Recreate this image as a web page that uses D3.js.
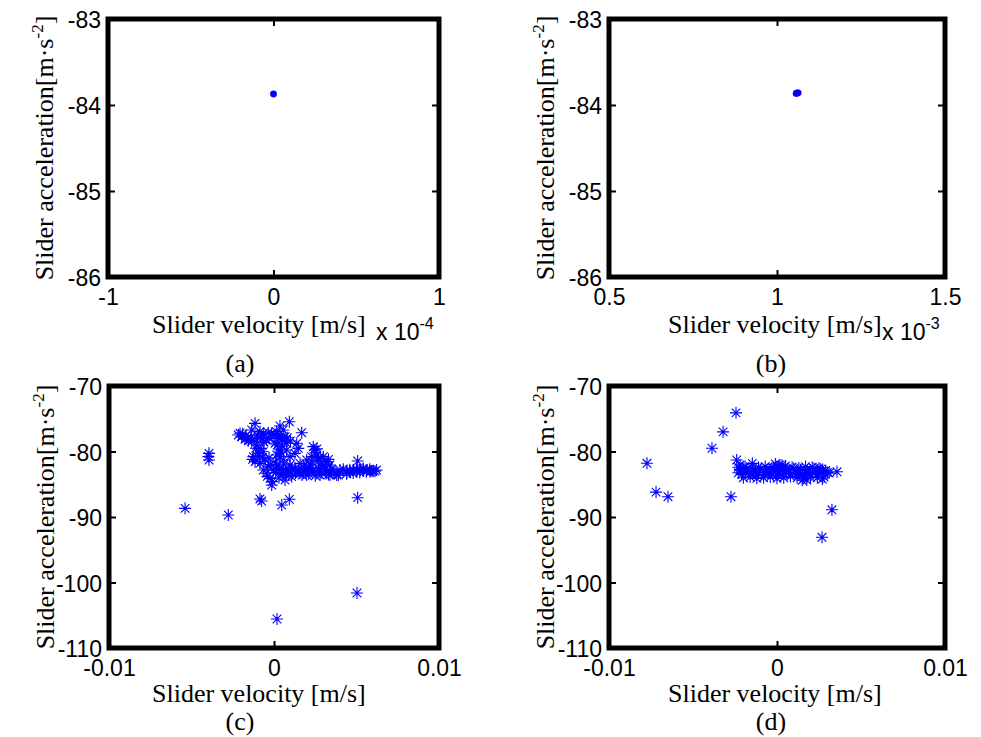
<!DOCTYPE html>
<html><head><meta charset="utf-8">
<script src="https://cdn.jsdelivr.net/npm/d3@7"></script>
<style>body{margin:0;background:#fff}svg{display:block}</style>
</head><body>
<svg id="chart" width="981" height="737"></svg>
<script>
// ---- data ----
const aX = [0];
const aY = [-83.872];
const bX = [0.001057, 0.00106, 0.001063];
const bY = [-83.865, -83.86, -83.858];

const cX = [-0.00216,-0.00196,-0.00176,-0.00156,-0.00135,-0.00206,-0.00166,-0.00115,-0.00135,-0.00085,
 -0.00065,-0.00035,-0.00014,-0.00075,-0.00044,0.00016,0.00036,0.00056,0.00093,0.00026,
 0.00047,0.00067,0.00006,0.00077,0.00138,0.00168,-0.00105,-0.00085,-0.00065,-0.00095,
 -0.00125,-0.00115,-0.00085,-0.00055,-0.00035,-0.00065,-0.00044,-0.00024,-0.00014,0.00016,
 0.00036,0.00056,0.00077,0.00097,0.00127,0.00147,0.00036,0.00016,0.00056,0.00067,
 0.00107,0.00127,0.00158,0.00198,0.00238,0.00248,0.00259,0.00269,0.00279,0.00299,
 0.00319,0.00339,0.00238,0.00279,0.00319,0.00359,0.0040,0.00441,0.00481,0.00521,
 0.00562,0.00592,0.00622,0.00056,0.00097,0.00138,0.00178,0.00218,0.00036,0.00158,
 0.00198,0.00279,0.00339,0.0038,0.00441,0.00507,0.00097,-0.00004,0.00178,0.00218,
 0.00228,0.00208,0.00461,0.00501,0.00541,0.00582,0.00612,
 0.0001,0.0003,0.0005,0.0007,0.0009,0.0011,0.0013,0.0015,0.0017,0.0019,
 0.0021,0.0023,0.0025,0.0027,0.0029,0.0031,0.0033,0.0035,0.0037,0.0039,
 0.0042,0.0044,0.0046,0.0048,0.0050,0.0052,0.0054,0.0056,0.0058,0.0060,
 -0.0003,-0.0002,-0.0004,-0.0001,0.0001,0.0003,0.0005,0.0004,0.0006,0.0002,
 0.0025,0.0027,0.0029,0.0031,0.0023,0.0033,0.0026,
 -0.0019,-0.0017,-0.0014,-0.0012,-0.0010,-0.0008,-0.0006,-0.0003,0.0000,0.0003,
 0.0005,0.0008,0.0010,-0.0011,-0.0009,-0.0007,-0.0013,
 -0.00394,-0.00394,-0.00398,-0.00539,-0.00277,-0.00085,-0.00075,0.00047,0.00093,0.00507,
 0.00503,0.00018];
const cY = [-77.48,-77.74,-78.14,-78.35,-78.50,-77.22,-77.99,-75.70,-76.72,-76.97,
 -77.22,-77.13,-77.22,-77.99,-78.24,-76.97,-76.11,-76.72,-75.45,-77.99,
 -78.24,-77.74,-78.75,-78.75,-78.75,-77.13,-79.01,-79.52,-80.03,-80.28,
 -80.79,-81.55,-81.81,-81.30,-82.32,-82.82,-83.33,-84.10,-85.11,-80.53,
 -80.79,-81.30,-79.77,-80.79,-80.28,-79.52,-79.77,-82.06,-82.82,-84.35,
 -83.84,-82.57,-81.81,-81.30,-79.26,-79.77,-80.53,-81.30,-82.06,-80.79,
 -81.55,-82.06,-82.82,-83.08,-83.08,-83.08,-82.82,-82.93,-82.82,-82.82,
 -82.82,-82.93,-82.82,-83.33,-83.08,-83.08,-83.08,-83.08,-82.57,-83.33,
 -83.59,-83.59,-83.59,-83.59,-83.33,-81.45,-82.06,-82.82,-82.32,-82.06,
 -80.79,-82.57,-83.08,-83.08,-82.70,-83.10,-83.00,
 -83.2,-82.7,-83.5,-82.9,-83.6,-82.6,-83.3,-82.8,-83.6,-82.7,
 -83.4,-82.9,-83.7,-82.6,-83.3,-82.8,-83.5,-82.7,-83.2,-83.6,
 -82.7,-83.4,-82.8,-83.3,-82.7,-83.2,-82.6,-83.1,-82.7,-83.0,
 -81.0,-82.0,-83.8,-84.6,-81.6,-84.0,-79.2,-80.1,-81.9,-79.0,
 -80.2,-81.0,-81.8,-82.3,-81.6,-81.2,-79.6,
 -77.3,-77.6,-77.9,-78.1,-77.5,-77.8,-78.6,-78.0,-77.6,-77.4,
 -78.1,-77.9,-78.4,-79.5,-80.6,-80.9,-81.2,
 -80.28,-81.30,-80.79,-88.68,-89.69,-87.25,-87.56,-88.17,-87.30,-87.05,
 -101.6,-105.57];

const dX = [-0.00244,-0.00321,-0.00387,-0.00774,-0.0072,-0.00649,-0.00274,0.00327,0.00268,0.00357,
 -0.0024,-0.0022,-0.00201,-0.00147,0.00018,0.00177,
 -0.0022,-0.0018,-0.0014,-0.0010,-0.0006,-0.0002,0.0002,0.0006,0.0010,0.0014,0.0018,0.0022,0.0026,0.0029,
 -0.0021,-0.0016,-0.0012,-0.0008,-0.0004,0.0000,0.0004,0.0008,0.0012,0.0016,0.0020,0.0024,0.0028,
 -0.0019,-0.0013,-0.0007,-0.0001,0.0005,0.0011,0.0017,0.0023,0.0027,0.0030,
 -0.0023,-0.0019,-0.0015,-0.0011,-0.0007,-0.0003,0.0001,0.0005,0.0009,0.0013,0.0017,0.0021,0.0025,
 -0.0020,-0.0016,-0.0012,-0.0008,-0.0004,0.0000,0.0004,0.0008,0.0012,0.0016,0.0020,0.0024,0.0028,
 -0.0023,-0.0017,-0.0011,-0.0005,0.0001,0.0007,0.0013,0.0019,0.0025,0.0031,
 -0.0001,0.0003,0.0015,0.0027];
const dY = [-74.1,-77.0,-79.5,-81.8,-86.2,-86.9,-86.9,-88.9,-93.1,-83.1,
 -81.3,-82.06,-82.57,-81.81,-82.06,-84.35,
 -82.8,-82.6,-82.9,-82.7,-82.8,-82.5,-82.9,-82.7,-82.6,-82.8,-82.9,-82.6,-82.7,-82.9,
 -83.5,-83.4,-83.6,-83.5,-83.3,-83.6,-83.4,-83.5,-83.3,-83.6,-83.4,-83.5,-83.3,
 -83.1,-83.0,-83.2,-83.1,-83.0,-83.2,-82.9,-83.1,-83.0,-83.2,
 -82.4,-82.3,-82.5,-82.4,-82.3,-82.5,-82.4,-82.2,-82.4,-82.5,-82.3,-82.4,-82.5,
 -84.0,-83.9,-84.1,-84.0,-83.9,-84.1,-84.0,-83.8,-84.0,-84.1,-83.9,-84.0,-83.9,
 -83.25,-83.3,-83.2,-83.3,-83.25,-83.2,-83.3,-83.25,-83.2,-83.3,
 -81.9,-82.1,-84.4,-84.2];

const abYTicks = [-86, -85, -84, -83];
const aXTicks = [-1e-4, 0, 1e-4];
const aXTickLabels = ["-1", "0", "1"];
const bXTicks = [0.5e-3, 1e-3, 1.5e-3];
const bXTickLabels = ["0.5", "1", "1.5"];
const cdYTicks = [-110, -100, -90, -80, -70];
const cdXTicks = [-0.01, 0, 0.01];
const cdXTickLabels = ["-0.01", "0", "0.01"];

const xLabel = "Slider velocity [m/s]";
const captions = ["(a)", "(b)", "(c)", "(d)"];

// ---- drawing ----
const svg = d3.select("#chart");
const SANS = "'Liberation Sans', Arial, sans-serif";
const SERIF = "'Liberation Serif', 'Times New Roman', serif";
const SERIF_SIZE = 26;

function panel(o) {
  const w = o.right - o.left, h = o.bottom - o.top;
  const x = d3.scaleLinear().domain(o.xDomain).range([0, w]);
  const y = d3.scaleLinear().domain(o.yDomain).range([h, 0]);
  const g = svg.append("g").attr("transform", `translate(${o.left},${o.top})`);

  // points
  if (o.marker === "dot") {
    g.selectAll("circle.pt").data(o.xs.map((v, i) => [v, o.ys[i]])).join("circle")
      .attr("class", "pt").attr("cx", d => x(d[0])).attr("cy", d => y(d[1]))
      .attr("r", 3.4).attr("fill", "#0000ff");
  } else {
    const s = 6, t = 4.3;
    const star = `M0,${-s}V${s}M${-s},0H${s}M${-t},${-t}L${t},${t}M${-t},${t}L${t},${-t}`;
    g.selectAll("path.pt").data(o.xs.map((v, i) => [v, o.ys[i]])).join("path")
      .attr("class", "pt").attr("d", star)
      .attr("transform", d => `translate(${x(d[0])},${y(d[1])})`)
      .attr("stroke", "#0000ff").attr("stroke-width", 1.1).attr("fill", "none");
  }

  // axes
  const fmtX = d => o.xTickLabels[o.xTicks.indexOf(d)];
  const fmtY = d => String(d);
  const left = g.append("g").call(d3.axisLeft(y).tickValues(o.yTicks).tickSize(-7).tickPadding(7).tickFormat(fmtY));
  const bottom = g.append("g").attr("transform", `translate(0,${h})`)
    .call(d3.axisBottom(x).tickValues(o.xTicks).tickSize(-7).tickPadding(12).tickFormat(fmtX));
  const top = g.append("g").call(d3.axisTop(x).tickValues(o.xTicks).tickSize(-7).tickFormat(""));
  const right = g.append("g").attr("transform", `translate(${w},0)`)
    .call(d3.axisRight(y).tickValues(o.yTicks).tickSize(-7).tickFormat(""));
  [left, bottom, top, right].forEach(a => {
    a.select(".domain").remove();
    a.selectAll("line").attr("stroke", "#000").attr("stroke-width", 2);
    a.selectAll("text").attr("font-family", SANS).attr("font-size", 23).attr("fill", "#000");
  });
  left.selectAll("text").attr("dy", "0.38em");

  g.append("rect").attr("x", 0).attr("y", 0).attr("width", w).attr("height", h)
    .attr("fill", "none").attr("stroke", "#000").attr("stroke-width", 5);

  // y label
  const yl = svg.append("text")
    .attr("transform", `translate(${o.left - 55},${o.top + h / 2}) rotate(-90)`)
    .attr("text-anchor", "middle").attr("font-family", SERIF).attr("font-size", SERIF_SIZE).attr("fill", "#000");
  yl.append("tspan").text("Slider acceleration[m·s");
  yl.append("tspan").attr("dy", -10).attr("font-size", 17).text("-2");
  yl.append("tspan").attr("dy", 10).text("]");

  // x label
  svg.append("text").attr("x", o.xLabelX).attr("y", o.bottom + o.xlOff)
    .attr("font-family", SERIF).attr("font-size", SERIF_SIZE).attr("fill", "#000").text(xLabel);

  if (o.exp) {
    const ex = svg.append("text").attr("x", o.right - 63).attr("y", o.bottom + 63)
      .attr("font-family", SANS).attr("font-size", 23).attr("fill", "#000");
    ex.append("tspan").text("x 10");
    ex.append("tspan").attr("dy", -11).attr("font-size", 16).text(o.exp);
  }

  svg.append("text").attr("x", o.capX).attr("y", o.bottom + o.capOff).attr("text-anchor", "middle")
    .attr("font-family", SERIF).attr("font-size", SERIF_SIZE).attr("fill", "#000").text(o.caption);
}

panel({left:108,right:439,top:19,bottom:277,xDomain:[-1e-4,1e-4],yDomain:[-86,-83],
  xs:aX,ys:aY,marker:"dot",xTicks:aXTicks,xTickLabels:aXTickLabels,yTicks:abYTicks,
  exp:"-4",xLabelX:152,xlOff:56,capX:240,capOff:95,caption:captions[0]});
panel({left:609,right:945,top:19,bottom:277,xDomain:[0.5e-3,1.5e-3],yDomain:[-86,-83],
  xs:bX,ys:bY,marker:"dot",xTicks:bXTicks,xTickLabels:bXTickLabels,yTicks:abYTicks,
  exp:"-3",xLabelX:668,xlOff:56,capX:771,capOff:95,caption:captions[1]});
panel({left:109,right:439,top:386,bottom:648,xDomain:[-0.01,0.01],yDomain:[-110,-70],
  xs:cX,ys:cY,marker:"star",xTicks:cdXTicks,xTickLabels:cdXTickLabels,yTicks:cdYTicks,
  exp:null,xLabelX:152,xlOff:54,capX:240,capOff:82,caption:captions[2]});
panel({left:609,right:945,top:386,bottom:648,xDomain:[-0.01,0.01],yDomain:[-110,-70],
  xs:dX,ys:dY,marker:"star",xTicks:cdXTicks,xTickLabels:cdXTickLabels,yTicks:cdYTicks,
  exp:null,xLabelX:668,xlOff:54,capX:771,capOff:82,caption:captions[3]});
</script>
</body></html>
